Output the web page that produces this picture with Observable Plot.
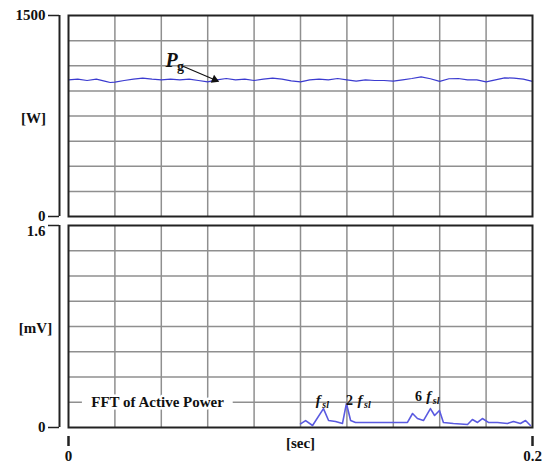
<!DOCTYPE html>
<html>
<head>
<meta charset="utf-8">
<script src="https://cdn.jsdelivr.net/npm/d3@7"></script>
<script src="https://cdn.jsdelivr.net/npm/@observablehq/plot@0.6"></script>
<style>
  body { margin: 0; background: #fff; }
  #chart svg { display: block; }
</style>
</head>
<body>
<div id="chart"></div>
<script>
// ---- Data ----
// Active power Pg [W] vs time [sec]
const pgTime = [0,0.004,0.008,0.012,0.016,0.018,0.020,0.024,0.028,0.032,0.036,0.040,0.044,0.048,0.052,0.056,0.060,0.064,0.068,
  0.072,0.076,0.080,0.084,0.088,0.092,0.096,0.100,0.104,0.108,0.112,0.116,0.120,0.124,0.128,0.132,
  0.136,0.140,0.144,0.148,0.152,0.156,0.160,0.164,0.168,0.172,0.176,0.180,0.184,0.188,0.192,0.196,0.200];
const pgValue = [1020,1025,1015,1025,1008,1000,1003,1015,1025,1032,1025,1020,1025,1020,1025,1015,1005,1020,1030,
  1020,1025,1015,1025,1032,1025,1012,1005,1020,1025,1020,1030,1020,1010,1020,1015,
  1015,1010,1020,1030,1042,1028,1008,1028,1030,1020,1020,1005,1020,1035,1032,1025,1008];

// FFT of active power [mV]
const fftTime = [0.1000,0.1022,0.1052,0.1099,0.1121,0.1151,0.1181,0.1198,0.1216,0.1237,0.1375,0.1461,0.1483,0.1504,0.1530,
  0.1560,0.1578,0.1599,0.1616,0.1659,0.1720,0.1741,0.1763,0.1784,0.1810,0.1849,0.1892,0.1918,0.1948,0.1970,0.1991];
const fftValue = [0.029,0.055,0.016,0.150,0.055,0.048,0.032,0.190,0.055,0.040,0.040,0.040,0.111,0.071,0.055,
  0.150,0.095,0.135,0.040,0.032,0.024,0.063,0.040,0.071,0.040,0.040,0.032,0.048,0.032,0.055,0.016];

// axes / ticks
const xDomain = [0, 0.2];
const xTicks = [0, 0.2];
const xGrid = [0.02,0.04,0.06,0.08,0.10,0.12,0.14,0.16,0.18];
const pgDomain = [0, 1500];
const pgTicks = [0, 1500];
const pgGrid = [187.5,375,562.5,750,937.5,1125,1312.5];
const fftDomain = [0, 1.6];
const fftGrid = [0.2,0.4,0.6,0.8,1.0,1.2,1.4];

// labels
const pgUnit = "[W]";
const fftUnit = "[mV]";
const xUnit = "[sec]";
const fftTitle = "FFT of Active Power";
const peakNum = [
  {t: 0.1196, v: 0.214, s: "2"},
  {t: 0.1494, v: 0.246, s: "6"}
];
const peakF = [
  {t: 0.1066, v: 0.214, s: "f"},
  {t: 0.1246, v: 0.214, s: "f"},
  {t: 0.1542, v: 0.246, s: "f"}
];
const peakSub = [
  {t: 0.1094, v: 0.182, s: "sl"},
  {t: 0.1274, v: 0.182, s: "sl"},
  {t: 0.1570, v: 0.214, s: "sl"}
];

const pg = pgTime.map((t, i) => ({t, v: pgValue[i]}));
const fft = fftTime.map((t, i) => ({t, v: fftValue[i]}));

const FONT = "Liberation Serif, Times New Roman, serif";
const GRID = "#8f8f8f";
const FRAME = "#222";
const FS = 15;
const baseStyle = {fontFamily: FONT, fontWeight: "bold", fontSize: "15px", background: "white", color: "#111", overflow: "visible"};

const arrowPg = {x1: 0.0496, y1: 1119, x2: 0.0630, y2: 1021};

const topPlot = Plot.plot({
  width: 545, height: 222,
  marginLeft: 68, marginRight: 13, marginTop: 15, marginBottom: 6,
  style: baseStyle,
  x: {domain: xDomain, axis: null},
  y: {domain: pgDomain, axis: null},
  marks: [
    Plot.ruleX(xGrid, {stroke: GRID, strokeWidth: 1.5}),
    Plot.ruleY(pgGrid, {stroke: GRID, strokeWidth: 1.5}),
    Plot.line(pg, {x: "t", y: "v", stroke: "#3b3bd0", strokeWidth: 1.2}),
    Plot.frame({stroke: FRAME, strokeWidth: 2}),
    Plot.ruleX([0], {y1: pgDomain[0], y2: pgDomain[1], dx: -9, stroke: FRAME, strokeWidth: 2}),
    Plot.axisY({ticks: pgTicks, tickSize: 11, dx: -9, tickPadding: 3, strokeWidth: 1.5, stroke: FRAME, fontSize: FS, label: null, tickFormat: d => String(d)}),
    Plot.text([pgUnit], {x: 0, y: 731, dx: -35, text: d => d, fontSize: FS}),
    Plot.arrow([arrowPg], {x1: "x1", y1: "y1", x2: "x2", y2: "y2", stroke: "#111", strokeWidth: 1.2, headLength: 0}),
    Plot.dot([arrowPg], {x: "x2", y: "y2", symbol: "triangle", r: 3.2, fill: "#111", rotate: 113}),
    Plot.text(["P"], {x: 0.0418, y: 1160, text: d => d, textAnchor: "start", fontSize: 20, fontStyle: "italic"}),
    Plot.text(["g"], {x: 0.0468, y: 1122, text: d => d, textAnchor: "start", fontSize: 14})
  ]
});

const bottomPlot = Plot.plot({
  width: 545, height: 247,
  marginLeft: 68, marginRight: 13, marginTop: 3, marginBottom: 42,
  style: baseStyle,
  x: {domain: xDomain, axis: null},
  y: {domain: fftDomain, axis: null},
  marks: [
    Plot.ruleX(xGrid, {stroke: GRID, strokeWidth: 1.5}),
    Plot.ruleY(fftGrid, {stroke: GRID, strokeWidth: 1.5}),
    Plot.ruleY([0.2], {x1: 0.0060, x2: 0.0710, stroke: "white", strokeWidth: 4}),
    Plot.text([fftTitle], {x: 0.0384, y: 0.2, text: d => d, fontSize: FS, stroke: "white", strokeWidth: 5, fill: "#111"}),
    Plot.line(fft, {x: "t", y: "v", stroke: "#5a5ae0", strokeWidth: 1.6}),
    Plot.frame({stroke: FRAME, strokeWidth: 2}),
    Plot.ruleX([0], {y1: fftDomain[0], y2: fftDomain[1], dx: -9, stroke: FRAME, strokeWidth: 2}),
    Plot.axisY({ticks: fftDomain, tickSize: 11, dx: -9, strokeWidth: 1.5, stroke: FRAME, tickFormat: () => "", label: null}),
    Plot.text([fftDomain[0]], {x: 0, y: d => d, text: d => String(d), dx: -23, textAnchor: "end", fontSize: FS}),
    Plot.text([fftDomain[1]], {x: 0, y: d => d, text: d => String(d), dx: -23, dy: 6, textAnchor: "end", fontSize: FS}),
    Plot.text([fftUnit], {x: 0, y: 0.784, dx: -33, text: d => d, fontSize: FS}),
    Plot.text(peakNum, {x: "t", y: "v", text: "s", textAnchor: "start", fontSize: 14}),
    Plot.text(peakF, {x: "t", y: "v", text: "s", textAnchor: "start", fontSize: 15, fontStyle: "italic"}),
    Plot.text(peakSub, {x: "t", y: "v", text: "s", textAnchor: "start", fontSize: 10, fontStyle: "italic"}),
    Plot.axisX({ticks: xTicks, tickSize: 10, dy: 9, tickPadding: 4, strokeWidth: 2.5, stroke: FRAME, fontSize: FS, label: null, tickFormat: d => String(d)}),
    Plot.text([xUnit], {x: 0.1, frameAnchor: "bottom", dy: 20, text: d => d, fontSize: FS})
  ]
});

document.getElementById("chart").append(topPlot, bottomPlot);
</script>
</body>
</html>
